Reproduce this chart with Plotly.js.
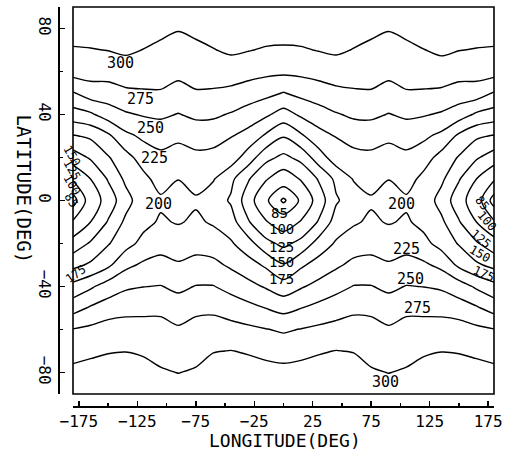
<!DOCTYPE html>
<html>
<head>
<meta charset="utf-8">
<script src="https://cdn.plot.ly/plotly-3.0.1.min.js"></script>
<style>
html,body{margin:0;padding:0;background:#fff;}
#chart{width:510px;height:452px;}
</style>
</head>
<body>
<div id="chart"></div>
<script>
// Grid of the field
const longitudes = [-180,-165,-150,-135,-120,-105,-90,-75,-60,-45,-30,-15,0,15,30,45,60,75,90,105,120,135,150,165,180];
const latitudes = [-90,-80,-70,-60,-50,-40,-30,-20,-10,0,10,20,30,40,50,60,70,80,90];

const lat_m90 = [314,314,314,314,314,314,314,314,314,314,314,314,314,314,314,314,314,314,314,314,314,314,314,314,314];
const lat_m80 = [307,309,310,310,307,303,299.5,303,310,310,309,309,307.5,309,309,310,310,303,299.5,303,307,310,310,309,307];
const lat_m70 = [290,295,298.5,299.5,297.5,291,288.7,291,299,300.5,298,293,290,293,298,300.5,299,291,288.7,291,297.5,299.5,298.5,295,290];
const lat_m60 = [276,280.5,287,285,284,281,278,281,285,283,280,276,272,276,280,283,285,281,278,281,284,285,287,280.5,276];
const lat_m50 = [240,253,261,268,269,271,262.5,271,270,264,257,249.5,242,249.5,257,264,270,271,262.5,271,269,268,261,253,240];
const lat_m40 = [208,221,237,246,249.5,251,244.6,251,251,242,232.5,222.5,211,222.5,232.5,242,251,251,244.6,251,249.5,246,237,221,208];
const lat_m30 = [168,179,195,219,229,232,227,232,231,221,210,196,177,196,210,221,231,232,227,232,229,219,195,179,168];
const lat_m20 = [135,153,173,191,207,217,215,217,213,203,185,157.5,144,157.5,185,203,213,217,215,217,207,191,173,153,135];
const lat_m10 = [102,125,152,180,193,203,198,204,197,186,152,127,110,127,152,186,197,204,198,203,193,180,152,125,102];
const lat_0   = [78,109,136,165.5,190,196,188,197,188,172,136,103,82,103,136,172,188,197,188,196,190,165.5,136,109,78];
const lat_p10 = [102,125,152,180,193,210,200.6,209,201.6,181,152,127,110,127,152,181,201.6,209,200.6,210,193,180,152,125,102];
const lat_p20 = [137.5,153,173,191,211,219,215,219,217,213,188,157.5,144,157.5,188,213,217,219,215,219,211,191,173,153,137.5];
const lat_p30 = [173,179,195,219,229.5,236,230,236,235,226,216,196,177,196,216,226,235,236,230,236,229.5,219,195,179,173];
const lat_p40 = [214,221,237,247,252,254,249,254.6,254,248,239,229,215,229,239,248,254,254.6,249,254,252,247,237,221,214];
const lat_p50 = [248,263,264,270.5,272.5,273,267,273,272,269,263,257,249,257,263,269,272,273,267,273,272.5,270.5,264,263,248];
const lat_p60 = [285,285,285,288,286,285,281,284.6,286,287,284,281,280,281,284,287,286,284.6,281,285,286,288,285,285,285];
const lat_p70 = [298,299,300.5,304,299.5,295.5,291,295,299,304,301,298,297,298,301,304,299,295,291,295.5,299.5,304.5,300.5,299,298];
const lat_p80 = [310,310,310,311,310,305,301.5,305,310,311,310,310,310,310,310,311,310,305,301.5,305,310,311,310,310,310];
const lat_p90 = [318,318,318,318,318,318,318,318,318,318,318,318,318,318,318,318,318,318,318,318,318,318,318,318,318];

const zRows = [lat_m90,lat_m80,lat_m70,lat_m60,lat_m50,lat_m40,lat_m30,lat_m20,lat_m10,lat_0,
               lat_p10,lat_p20,lat_p30,lat_p40,lat_p50,lat_p60,lat_p70,lat_p80,lat_p90];

// contour levels
const lowLevel = 85;
const levelStart = 100, levelEnd = 300, levelStep = 25;

// contour labels (text, lon, lat)
const labelText = ['300','275','250','225','200','200','85','100','125','150','175','225','250','275','300'];
const labelLon  = [-139,-122,-114,-110.7,-107.3,100.9,-3.8,-2,-2,-2,-2,104.8,108.2,114.6,86.8];
const labelLat  = [64,47,33.7,19.8,-1.4,-1.6,-5.6,-13.3,-21.4,-28.6,-36.3,-22.6,-36.5,-49.8,-84.2];

// labels at the map edges (text, paper x, paper y, angle)
const edgeText  = ['150','125','100','85','85','100','125','150','175','175'];
const edgeX     = [0.0299,0.0299,0.0299,0.0276,0.9724,0.9839,0.9701,0.9678,0.977,0.0391];
const edgeY     = [0.6275,0.5925,0.555,0.5175,0.51,0.465,0.42,0.3825,0.3325,0.3325];
const edgeAngle = [60,60,60,60,50,50,40,30,25,-35];

const FONT = 'DejaVu Sans Mono, Liberation Mono, monospace';
const black = [[0,'#000'],[1,'#000']];

const traces = [
  {
    type:'contour', x:longitudes, y:latitudes, z:zRows,
    autocontour:false,
    contours:{start:levelStart,end:levelEnd,size:levelStep,coloring:'lines',showlines:true},
    colorscale:black, showscale:false,
    line:{width:1.4,smoothing:0.8},
    hoverinfo:'skip'
  },
  {
    type:'contour', x:longitudes, y:latitudes, z:zRows,
    autocontour:false,
    contours:{start:lowLevel,end:lowLevel,size:15,coloring:'lines',showlines:true},
    colorscale:black, showscale:false,
    line:{width:1.4,smoothing:0.8},
    hoverinfo:'skip'
  }
];

const annotations = [];
for (let i=0;i<labelText.length;i++){
  const centre = (i>=6 && i<=10);
  annotations.push({x:labelLon[i],y:labelLat[i],xref:'x',yref:'y',text:labelText[i],showarrow:false,
    xanchor:'center',yanchor:'middle',font:{family:FONT,size:centre?14:15,color:'#000'}});
}
for (let i=0;i<edgeText.length;i++){
  annotations.push({x:edgeX[i],y:edgeY[i],xref:'paper',yref:'paper',text:edgeText[i],showarrow:false,
    xanchor:'center',yanchor:'middle',textangle:edgeAngle[i],font:{family:FONT,size:12,color:'#000'}});
}
annotations.push({x:0.5195,y:-0.084,xref:'paper',yref:'paper',text:'LONGITUDE(DEG)',showarrow:false,
  xanchor:'center',yanchor:'middle',font:{family:FONT,size:18,color:'#000'}});
annotations.push({x:-0.0816,y:0.545,xref:'paper',yref:'paper',text:'LATITUDE(DEG)',showarrow:false,textangle:90,
  xanchor:'center',yanchor:'middle',font:{family:FONT,size:19,color:'#000'}});

const layout = {
  width:510, height:452,
  margin:{l:59,r:16,t:7,b:45},
  paper_bgcolor:'#fff', plot_bgcolor:'#fff',
  showlegend:false,
  font:{family:FONT,color:'#000'},
  xaxis:{
    range:[-180,180], domain:[0.0322,1], anchor:'free', position:0,
    showgrid:false, zeroline:false, showline:true, linecolor:'#000', linewidth:2,
    tick0:-175, dtick:50, ticks:'inside', ticklen:5, tickcolor:'#000', tickwidth:1.5,
    minor:{tick0:-175, dtick:25, ticks:'inside', ticklen:3, tickcolor:'#000'},
    tickfont:{family:FONT,size:16,color:'#000'}
  },
  yaxis:{
    range:[-90,90], domain:[0.0325,1], anchor:'free', position:0,
    showgrid:false, zeroline:false, showline:true, linecolor:'#000', linewidth:2,
    tick0:0, dtick:40, ticks:'inside', ticklen:5, tickcolor:'#000', tickwidth:1.5,
    minor:{tick0:0, dtick:20, ticks:'inside', ticklen:3, tickcolor:'#000'},
    tickangle:90,
    tickfont:{family:FONT,size:16,color:'#000'}
  },
  shapes:[{type:'rect',xref:'x domain',yref:'y domain',x0:0,x1:1,y0:0,y1:1,line:{color:'#000',width:1.6}}],
  annotations:annotations
};

Plotly.newPlot('chart',traces,layout,{staticPlot:true,displayModeBar:false});
</script>
</body>
</html>
